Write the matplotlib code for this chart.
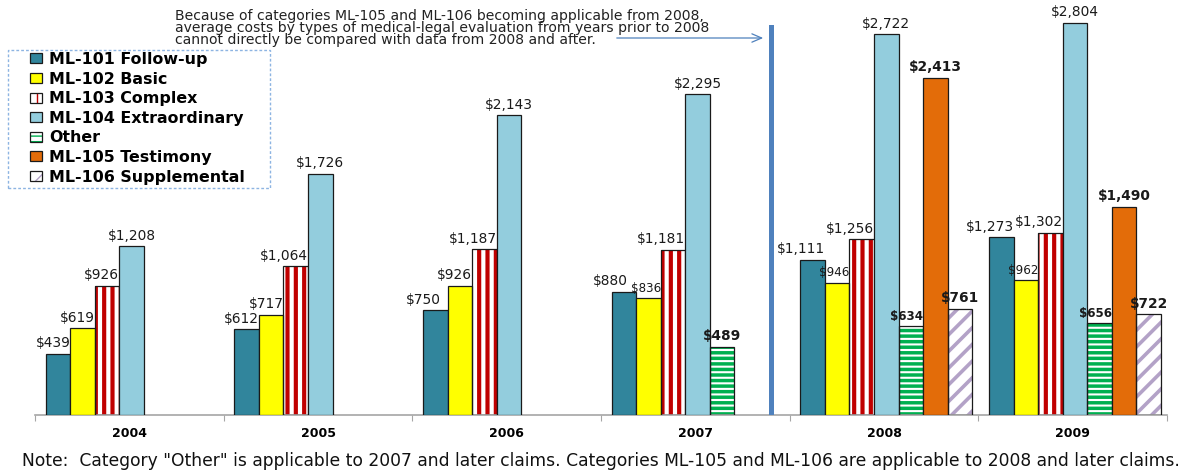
import numpy as np
import matplotlib
matplotlib.use("Agg")
import matplotlib.pyplot as plt
from matplotlib.patches import Patch, Rectangle
from matplotlib.legend_handler import HandlerTuple

# ---------------- data ----------------
years = ["2004", "2005", "2006", "2007", "2008", "2009"]
series_names = ["ML-101 Follow-up", "ML-102 Basic", "ML-103 Complex",
                "ML-104 Extraordinary", "Other", "ML-105 Testimony",
                "ML-106 Supplemental"]
ml101 = [439, 612, 750, 880, 1111, 1273]
ml102 = [619, 717, 926, 836, 946, 962]
ml103 = [926, 1064, 1187, 1181, 1256, 1302]
ml104 = [1208, 1726, 2143, 2295, 2722, 2804]
other = [np.nan, np.nan, np.nan, 489, 634, 656]
ml105 = [np.nan, np.nan, np.nan, np.nan, 2413, 1490]
ml106 = [np.nan, np.nan, np.nan, np.nan, 761, 722]
values = [ml101, ml102, ml103, ml104, other, ml105, ml106]

note_text = ('Note:  Category "Other" is applicable to 2007 and later claims. '
             'Categories ML-105 and ML-106 are applicable to 2008 and later claims.')
annot_text = ("Because of categories ML-105 and ML-106 becoming applicable from 2008,\n"
              "average costs by types of medical-legal evaluation from years prior to 2008\n"
              "cannot directly be compared with data from 2008 and after.")

# ---------------- styles ----------------
# (face, hatch, hatch colour)
styles = [
    ("#31859C", None, None),
    ("#FFFF00", None, None),
    ("white", "||", "#C00000"),
    ("#93CDDD", None, None),
    ("white", "---", "#00B050"),
    ("#E36C09", None, None),
    ("white", "//", "#B3A2C7"),
]
hatch_lw = {2: 3.0, 4: 2.5, 6: 2.6}
bold_labels = {4, 5, 6}
small_labels = {(1, 3), (1, 4), (1, 5), (4, 4), (4, 5)}
right_aligned_series = {0, 1, 2, 4}
label_nudge = {(0, 2): -4.5, (0, 3): -6.0}   # points


def hatched(patch, lw):
    if hasattr(patch, "set_hatch_linewidth"):
        patch.set_hatch_linewidth(lw)


W, H = 1181, 472
fig = plt.figure(figsize=(W / 100, H / 100), dpi=100)
ax = fig.add_axes([35 / W, 1 - 415 / H, (1167 - 35) / W, 415 / H])

x = np.arange(len(years))
bw = 0.13
n = len(values)
for i, (vals, (fc, hatch, hc)) in enumerate(zip(values, styles)):
    xs = x + (i - (n - 1) / 2) * bw + 0.012
    v = np.array(vals, dtype=float)
    if hatch:
        with plt.rc_context({"hatch.linewidth": hatch_lw[i]}):
            bars_h = ax.bar(xs, v, bw, color="white", edgecolor=hc, hatch=hatch,
                            linewidth=0, zorder=2)
        for b in bars_h:
            hatched(b, hatch_lw[i])
        ax.bar(xs, v, bw, facecolor="none", edgecolor="#1a1a1a", linewidth=0.9, zorder=3)
    else:
        ax.bar(xs, v, bw, color=fc, edgecolor="#1a1a1a", linewidth=0.9, zorder=3)
    for j, (xx, vv) in enumerate(zip(xs, v)):
        if np.isnan(vv):
            continue
        small = (i, j) in small_labels
        right = i in right_aligned_series and i + 1 < n and not np.isnan(values[i + 1][j])
        ax.annotate(f"${int(vv):,}", (xx + bw / 2 if right else xx, vv),
                    xytext=(label_nudge.get((i, j), 0), 2.5), textcoords="offset points",
                    ha="right" if right else "center", va="bottom",
                    fontsize=8.6 if small else 9.9,
                    fontweight="bold" if i in bold_labels else "normal",
                    color="#1a1a1a", zorder=5)

ax.set_xlim(-0.5, len(years) - 0.5)
ax.set_ylim(0, 2968)
for s in ["left", "right", "top"]:
    ax.spines[s].set_visible(False)
ax.spines["bottom"].set_color("#A6A6A6")
ax.spines["bottom"].set_linewidth(1.2)
ax.set_yticks([])
ax.set_xticks(np.arange(-0.5, len(years)), [""] * (len(years) + 1))
ax.tick_params(axis="x", which="major", length=4, color="#A6A6A6", direction="out")
ax.set_xticks(x, years, minor=True)
ax.tick_params(axis="x", which="minor", length=0, pad=8.5, labelsize=9)
for t in ax.get_xticklabels(minor=True):
    t.set_fontweight("bold")

# vertical separator between 2007 and 2008
ax.axvline(3.4, ymin=0, ymax=(415 - 27) / 415, color="#4F81BD", lw=3.6, zorder=4)

# annotation text and arrow
fig.text(175 / W, 1 - 9 / H, annot_text, ha="left", va="top", fontsize=10.1,
         linespacing=0.83, color="#222222")
ax.annotate("", xy=(766 / W, 1 - 38 / H), xycoords="figure fraction",
            xytext=(614 / W, 1 - 38 / H), textcoords="figure fraction",
            arrowprops=dict(arrowstyle="->,head_length=0.7,head_width=0.3",
                            color="#4F81BD", lw=0.9))

# legend
handles = []
for i, (fc, hatch, hc) in enumerate(styles):
    if hatch:
        h1 = Patch(facecolor="white", edgecolor=hc, hatch=hatch, linewidth=0)
        hatched(h1, hatch_lw[i])
        h2 = Patch(facecolor="none", edgecolor="#1a1a1a", linewidth=0.9)
        handles.append((h1, h2))
    else:
        handles.append(Patch(facecolor=fc, edgecolor="#1a1a1a", linewidth=0.9))
leg = fig.legend(handles, series_names, loc="upper left",
                 bbox_to_anchor=(30 / W, 1 - 52 / H), borderaxespad=0,
                 handler_map={tuple: HandlerTuple(ndivide=1)},
                 prop={"weight": "bold", "size": 11.4},
                 handlelength=0.76, handleheight=0.58, handletextpad=0.45,
                 labelspacing=0.29, borderpad=0, frameon=False)
fig.add_artist(Rectangle((8 / W, 1 - 188 / H), 262 / W, 138 / H,
                         transform=fig.transFigure, fill=False,
                         edgecolor="#8DB4E2", linestyle=(0, (2, 1.5)), linewidth=1.0))

# bottom note
fig.text(22 / W, 1 - 461 / H, note_text, ha="left", va="center", fontsize=12.3,
         color="#111111")

fig.savefig("out.png", dpi=100)
